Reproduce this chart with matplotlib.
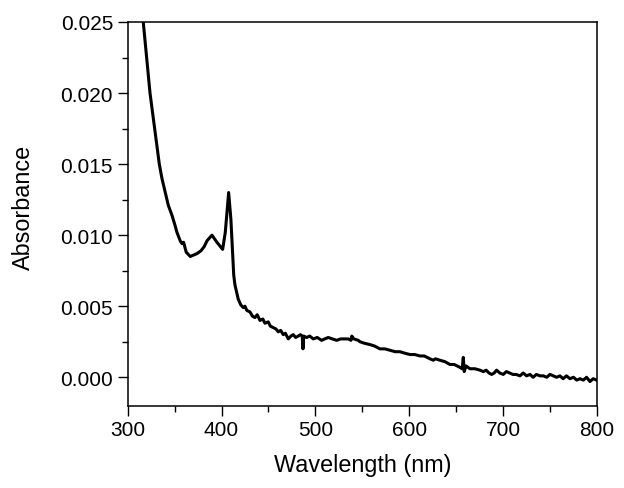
import matplotlib
matplotlib.use('Agg')
import matplotlib.pyplot as plt
from matplotlib.ticker import MultipleLocator

plt.rcParams['font.family'] = ['Liberation Sans', 'DejaVu Sans']

# absorbance spectrum
wavelength = [300, 305, 310, 316.6, 323.8, 333.7, 336.5, 341.9, 343.3, 347.2,
              350.4, 352.5, 356.0, 357.9, 359.6, 362.4, 366.7, 370.2, 373.8,
              378.1, 381.6, 384.5, 389.8, 395.1, 401.2, 404.0, 407.6, 410.0,
              413.0, 414.3, 417.8, 420.5, 423.2, 425.0, 427.0, 430.3, 433.0,
              435.6, 438.0, 441.0, 444.0, 446.3, 449.8, 452.0, 455.1, 458.0,
              460.5, 463.0, 465.8, 468.0, 471.1, 474.0, 476.4, 479.0, 481.8,
              484.0, 486.0, 486.8, 487.6, 490.7, 494.0, 497.7, 502.0, 506.7,
              510.0, 513.7, 518.0, 522.7, 527.0, 531.5, 535.0, 538.0, 538.8,
              541.0, 545.7, 547.5, 552.0, 558.2, 563.0, 568.8, 574.0, 579.5,
              585.0, 590.1, 595.0, 600.8, 606.0, 611.4, 616.0, 622.1, 625.6,
              628.0, 632.7, 638.0, 643.4, 648.0, 654.0, 656.5, 657.6, 658.6,
              660.5, 664.7, 670.0, 675.4, 679.0, 682.0, 685.0, 687.8, 690.5,
              693.1, 696.5, 700.2, 703.5, 707.0, 710.5, 714.0, 718.0, 721.5,
              725.0, 728.7, 732.0, 735.5, 739.4, 743.0, 746.5, 750.0, 753.5,
              757.0, 760.6, 764.0, 767.5, 771.3, 775.0, 778.5, 782.0, 785.5,
              789.0, 792.6, 796.0, 799.7]
absorbance = [0.0340, 0.0300, 0.0272, 0.0250, 0.0200, 0.0150, 0.0140, 0.0125,
              0.0121, 0.0114, 0.0107, 0.0102, 0.0096, 0.0094, 0.0095, 0.0088,
              0.0085, 0.0086, 0.0087, 0.0089, 0.0092, 0.0096, 0.0100, 0.0095,
              0.0090, 0.0102, 0.0130, 0.0111, 0.0072, 0.0065, 0.0055, 0.0051,
              0.0049, 0.0050, 0.0047, 0.0046, 0.0043, 0.0042, 0.0044, 0.0040,
              0.0041, 0.0038, 0.0039, 0.0036, 0.0035, 0.0034, 0.0032, 0.0033,
              0.0030, 0.0031, 0.0027, 0.0029, 0.0030, 0.0028, 0.0029, 0.0030,
              0.0029, 0.0020, 0.0029, 0.0028, 0.0029, 0.0027, 0.0028, 0.0026,
              0.0027, 0.0028, 0.0027, 0.0026, 0.0027, 0.0027, 0.0027, 0.0026,
              0.0029, 0.0027, 0.0026, 0.0025, 0.0024, 0.0023, 0.0022, 0.0020,
              0.0020, 0.0019, 0.0018, 0.0018, 0.0017, 0.0016, 0.0016, 0.0015,
              0.0015, 0.0013, 0.0012, 0.0013, 0.0012, 0.0011, 0.0009, 0.0009,
              0.0007, 0.0006, 0.0014, 0.0004, 0.0008, 0.0006, 0.0006, 0.0005,
              0.0004, 0.0005, 0.0003, 0.0002, 0.0003, 0.0005, 0.0003, 0.0002,
              0.0004, 0.0003, 0.0002, 0.0002, 0.0001, 0.0003, 0.0001, 0.0002,
              0.0000, 0.0002, 0.0001, 0.0001, 0.0000, 0.0002, 0.0001, 0.0000,
              0.0001, -0.0001, 0.0001, -0.0001, 0.0000, -0.0002, -0.0001,
              -0.0002, 0.0000, -0.0003, -0.0001, -0.0002]

fig = plt.figure(figsize=(6.24, 4.89), dpi=100)
ax = fig.add_axes([0.2046, 0.1683, 0.752, 0.7847])
ax.plot(wavelength, absorbance, color='black', lw=2.2)

ax.set_xlim(300, 800)
ax.set_ylim(-0.002, 0.025)
ax.xaxis.set_major_locator(MultipleLocator(100))
ax.xaxis.set_minor_locator(MultipleLocator(50))
ax.yaxis.set_major_locator(MultipleLocator(0.005))
ax.yaxis.set_minor_locator(MultipleLocator(0.0025))
ax.yaxis.set_major_formatter(plt.FormatStrFormatter('%.3f'))
ax.tick_params(which='both', direction='out', top=False, right=False,
               labelsize=15, width=1.0)
ax.tick_params(which='major', length=7)
ax.tick_params(which='minor', length=4)
for s in ax.spines.values():
    s.set_linewidth(1.1)

ax.set_xlabel('Wavelength (nm)', fontsize=16.8, labelpad=10)
ax.set_ylabel('Absorbance', fontsize=16.8, labelpad=18)
ax.yaxis.label.set_y(0.518)

fig.savefig('out.png', dpi=100)
